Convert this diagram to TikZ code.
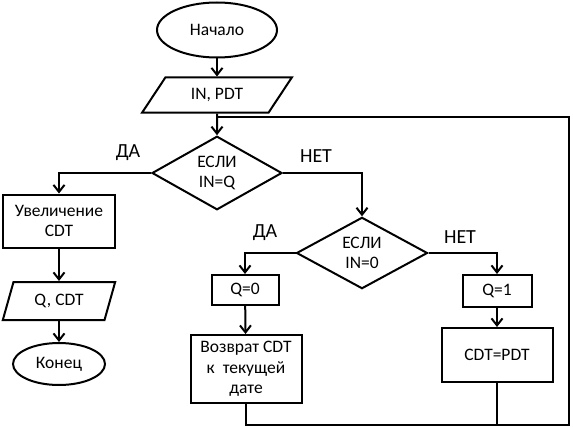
\documentclass[tikz,border=0pt]{standalone}
\usepackage{fontspec}
\setmainfont{Carlito}
\usetikzlibrary{shapes.geometric,arrows.meta}
\begin{document}
\begin{tikzpicture}[x=1pt,y=-1pt,
 every node/.style={font=\fontsize{17.5}{20.5}\selectfont},
 base/.style={draw, line width=2pt, align=center, inner sep=0pt},
 term/.style={base, ellipse},
 io/.style={base, trapezium, trapezium stretches=true},
 proc/.style={base, rectangle},
 dec/.style={base, diamond},
 conn/.style={line width=2pt},
 arr/.style={conn, -{Straight Barb[length=7pt,width=11pt]}},
 lbl/.style={font=\fontsize{20}{22}\selectfont}]
\useasboundingbox (0,0) rectangle (573,428);
\node[term, minimum width=120, minimum height=55] (start) at (217,30) {Начало};
\node[io, trapezium left angle=49, trapezium right angle=131, minimum width=150, minimum height=35] (in) at (217,95) {IN, PDT};
\coordinate (j) at (217,117);
\node[dec, minimum width=130, minimum height=70] (d1) at (217,173) {ЕСЛИ\\IN=Q};
\node[proc, minimum width=112, minimum height=53] (inc) at (59,221) {Увеличение\\CDT};
\node[io, trapezium left angle=67, trapezium right angle=113, minimum width=113, minimum height=38] (out) at (59,301) {Q, CDT};
\node[term, minimum width=92, minimum height=42] (end) at (59,364) {Конец};
\node[dec, minimum width=131, minimum height=69] (d2) at (362,253) {ЕСЛИ\\IN=0};
\node[proc, minimum width=67, minimum height=30] (q0) at (245,290) {Q=0};
\node[proc, minimum width=111, minimum height=68] (ret) at (246,369) {Возврат CDT\\к~~текущей\\дате};
\node[proc, minimum width=69, minimum height=32] (q1) at (497,291) {Q=1};
\node[proc, minimum width=111, minimum height=54] (cp) at (497,355) {CDT=PDT};
\node[lbl] (l1) at (128,153) {ДА};
\node[lbl] (l2) at (316,156) {НЕТ};
\node[lbl] (l3) at (265,233) {ДА};
\node[lbl] (l4) at (460,237) {НЕТ};
\coordinate (br) at (569,425);
\coordinate (tr) at (569,117);
\draw[arr] (start) -- (in);
\draw[arr] (in) -- (d1);
\draw[arr] (d1.west) -| (inc.north);
\draw[arr] (inc) -- (out);
\draw[arr] (out) -- (end);
\draw[arr] (d1.east) -| (d2.north);
\draw[arr] (d2.west) -| (q0.north);
\draw[arr] (d2.east) -| (q1.north);
\draw[arr] (q0) -- (ret);
\draw[arr] (q1) -- (cp);
\draw[conn] (ret.south) -- (ret.south |- br) -- (br) -- (tr) -- (j);
\draw[conn] (cp.south) -- (cp.south |- br);
\end{tikzpicture}
\end{document}
